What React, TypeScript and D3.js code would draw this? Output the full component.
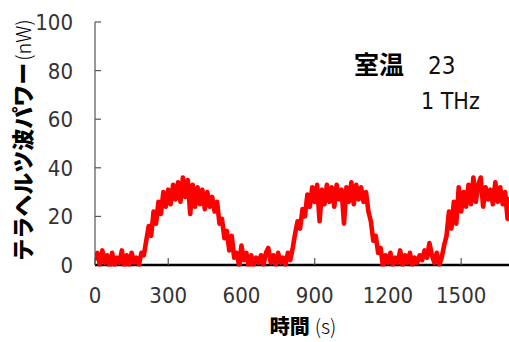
import * as d3 from 'd3';

// time step between samples (s)
const STEP = 10;

// terahertz power, one value every 10 s from 0 to 1700 s
const power: number[] = [
  // 0-190 s
  2, 5, 0, 6, 1, 4, -1, 5, 0, 3, 1, 6, -1, 4, 0, 5, 1, 3, 0, 5,
  // 200-590 s
  4, 10, 16, 12, 22, 17, 26, 21, 30, 24, 31, 25, 33, 27, 34, 26, 36, 28, 35, 21,
  33, 24, 32, 25, 31, 23, 30, 24, 28, 22, 26, 17, 19, 11, 14, 6, 12, 3, 5, 0,
  // 600-810 s
  8, 2, 5, -1, 4, 0, 3, 1, 4, 0, 5, 7, 1, 4, 0, 5, 1, 3, 0, 5, 2, 7,
  // 820-1100 s
  13, 18, 15, 23, 20, 29, 24, 32, 26, 33, 18, 31, 25, 33, 26, 32, 24, 33, 27, 31,
  17, 32, 26, 34, 25, 33, 27, 32, 26,
  // 1110-1170 s
  30, 22, 18, 10, 12, 5, 7,
  // 1180-1420 s
  -1, 4, 1, 5, 0, 3, 1, 6, 0, 4, 1, 5, 0, 3, 1, 4, 2, 6, 3, 9, 4, 1, 5, 0, 3,
  // 1430-1700 s
  8, 12, 22, 15, 26, 17, 32, 22, 30, 24, 33, 25, 36, 26, 33, 36, 24, 32, 27, 31,
  25, 34, 26, 32, 25, 30, 19, 28,
];

const xTicks = [0, 300, 600, 900, 1200, 1500];
const yTicks = [0, 20, 40, 60, 80, 100];

const numFont = '"Liberation Sans Narrow", "DejaVu Sans Condensed", sans-serif';
const jpFont = '"Noto Sans CJK JP", sans-serif';

export default function App() {
  const width = 509;
  const height = 342;
  const margin = { top: 22, right: -1, bottom: 77, left: 95 };

  const x = d3.scaleLinear().domain([0, 1700]).range([margin.left, width - margin.right]);
  const y = d3.scaleLinear().domain([0, 100]).range([height - margin.bottom, margin.top]);

  const points = power.map((v, i) => [i * STEP, v] as [number, number]);
  const line = d3.line<[number, number]>()
    .x(d => x(d[0]))
    .y(d => y(d[1]));

  const y0 = y(0);

  return (
    <svg
      width={width}
      height={height}
      style={{ position: 'absolute', left: 0, top: 0, background: '#fff' }}
    >
      <defs>
        <clipPath id="plot">
          <rect x={margin.left} y={margin.top} width={width - margin.left} height={y0 - margin.top + 1.5} />
        </clipPath>
      </defs>

      {/* y axis */}
      <line x1={x(0)} x2={x(0)} y1={y(100)} y2={y0} stroke="#555" strokeWidth={1.2} />
      {yTicks.map(t => (
        <g key={t}>
          <line x1={x(0)} x2={x(0) + 6} y1={y(t)} y2={y(t)} stroke="#555" strokeWidth={1.2} />
          <text
            x={73}
            y={y(t)}
            dy="0.36em"
            textAnchor="end"
            fontFamily={numFont}
            fontSize={22}
            fill="#333"
          >
            {t}
          </text>
        </g>
      ))}

      {/* x axis */}
      <line x1={x(0)} x2={width} y1={y0} y2={y0} stroke="#000" strokeWidth={2.3} />
      {xTicks.map(t => (
        <g key={t}>
          <line x1={x(t)} x2={x(t)} y1={y0} y2={y0 - 7} stroke="#555" strokeWidth={1.2} />
          <text
            x={x(t)}
            y={303}
            textAnchor="middle"
            fontFamily={numFont}
            fontSize={22}
            fill="#333"
          >
            {t}
          </text>
        </g>
      ))}

      {/* trace */}
      <path
        d={line(points) ?? ''}
        fill="none"
        stroke="#ff0000"
        strokeWidth={4.6}
        strokeLinejoin="round"
        clipPath="url(#plot)"
      />

      {/* axis titles */}
      <text
        transform={`translate(31,${140}) rotate(-90)`}
        textAnchor="middle"
        fill="#000"
      >
        <tspan fontFamily={jpFont} fontWeight={900} fontSize={22}>テラヘルツ波パワー</tspan>
        <tspan fontFamily={jpFont} fontWeight={300} fontSize={20} dx={2}>(nW)</tspan>
      </text>
      <text x={303} y={334} textAnchor="middle" fill="#000">
        <tspan fontFamily={jpFont} fontWeight={900} fontSize={20}>時間</tspan>
        <tspan fontFamily={jpFont} fontWeight={300} fontSize={20} dx={5}>(s)</tspan>
      </text>

      {/* annotation */}
      <text x={354} y={74} fontFamily={jpFont} fontWeight={700} fontSize={25} fill="#000">室温</text>
      <text x={428} y={74} fontFamily={numFont} fontSize={24} fill="#111">23</text>
      <text x={421} y={109} fontFamily={numFont} fontSize={23} fill="#111">1 THz</text>
    </svg>
  );
}
